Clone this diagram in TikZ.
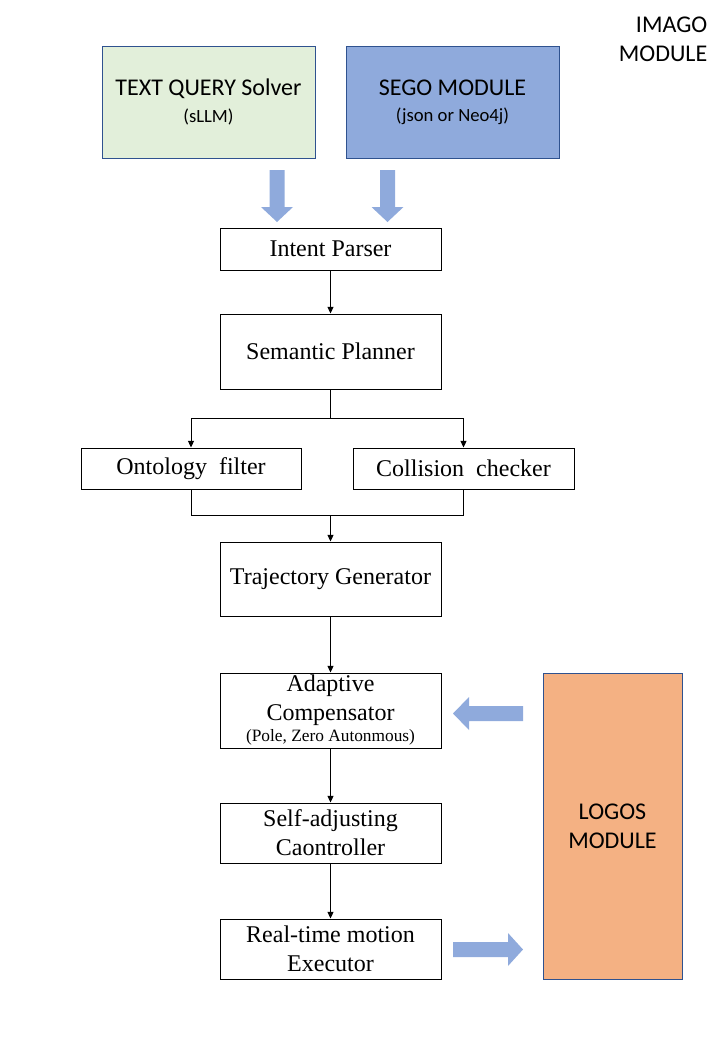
\documentclass[tikz,border=0pt]{standalone}
\usepackage{fontspec}
\setmainfont{Liberation Serif}
\newfontfamily\calfont{Carlito}
\usepackage{xcolor}
\usepackage{tikz}
\usetikzlibrary{arrows.meta, positioning, calc}

\definecolor{querygreen}{HTML}{E2EFDA}
\definecolor{segoblue}{HTML}{8FAADC}
\definecolor{logosorange}{HTML}{F4B183}
\definecolor{edgeblue}{HTML}{2F528F}

\tikzset{
    stage/.style={draw, line width=0.75pt, align=center, inner sep=1pt,
        minimum width=165.75pt, font=\fontsize{18pt}{21.75pt}\selectfont},
    module/.style={draw=edgeblue, line width=0.75pt, align=center,
        font=\calfont\fontsize{18pt}{21.75pt}\selectfont},
    flow/.style={-{Triangle[length=5pt, width=4.5pt]}, line width=0.75pt},
    blk/.style={fill=segoblue}
}

\begin{document}
\begin{tikzpicture}[x=0.75pt, y=-0.75pt]
        \useasboundingbox (0,0) rectangle (720,1040);

        \node[anchor=north east, align=right, font=\calfont\fontsize{18pt}{21.75pt}\selectfont]
            at (712,12) (imago) {IMAGO\\MODULE};

        \node[module, fill=querygreen, minimum width=159.75pt, minimum height=84pt] at (208.5,102) (query)
            {TEXT QUERY Solver\\[-2pt]{\fontsize{14pt}{16pt}\selectfont (sLLM)}};
        \node[module, fill=segoblue, minimum width=159.75pt, minimum height=84pt] at (452.5,102) (sego)
            {SEGO MODULE\\[-2pt]{\fontsize{14pt}{16pt}\selectfont (json or Neo4j)}};

        \fill[blk] (269.5,170) -- (284.5,170) -- (284.5,207) -- (293,207) -- (277,222)
            -- (261,207) -- (269.5,207) -- cycle;
        \fill[blk] (380,170) -- (395,170) -- (395,207) -- (403.5,207) -- (387.5,222)
            -- (371.5,207) -- (380,207) -- cycle;

        \node[stage, minimum height=31.5pt] at (330.5,249) (intent) {Intent Parser};
        \node[stage, minimum height=56.25pt] at (330.5,351.5) (planner) {Semantic Planner};

        \node[stage, minimum width=165pt, minimum height=30.75pt] at (191,468.5) (onto)
            {Ontology\ \ filter};
        \node[stage, minimum height=30.75pt] at (463.5,468.5) (coll) {Collision\ \ checker};

        \node[stage, minimum height=55.5pt] at (330.5,579) (traj) {Trajectory Generator};
        \node[stage, minimum height=56.25pt] at (330.5,710.5) (adapt)
            {Adaptive\\Compensator\\[-6pt]{\fontsize{13pt}{14pt}\selectfont (Pole, Zero Autonmous)}};
        \node[stage, minimum height=45pt] at (330.5,833) (selfadj) {Self-adjusting\\Caontroller};
        \node[stage, minimum height=45pt] at (330.5,949) (exec) {Real-time motion\\Executor};

        \node[module, fill=logosorange, minimum width=104.25pt, minimum height=229.5pt]
            at (612.5,826) (logos) {LOGOS\\MODULE};

        \fill[blk] (523,706) -- (469,706) -- (469,697) -- (453,713.5) -- (469,730)
            -- (469,721) -- (523,721) -- cycle;
        \fill[blk] (453,942) -- (508,942) -- (508,933) -- (523,949.5) -- (508,966)
            -- (508,957) -- (453,957) -- cycle;

        \coordinate (split) at (330.5,418);
        \coordinate (merge) at (330.5,515);

        \draw[flow] (intent) -- (planner);
        \draw[line width=0.75pt] (planner) -- (split);
        \draw[flow] (split) -| (onto);
        \draw[flow] (split) -| (coll);
        \draw[line width=0.75pt] (onto.south) |- (merge);
        \draw[line width=0.75pt] (coll.south) |- (merge);
        \draw[flow] (merge) -- (traj);
        \draw[flow] (traj) -- (adapt);
        \draw[flow] (adapt) -- (selfadj);
        \draw[flow] (selfadj) -- (exec);
    \end{tikzpicture}
\end{document}
